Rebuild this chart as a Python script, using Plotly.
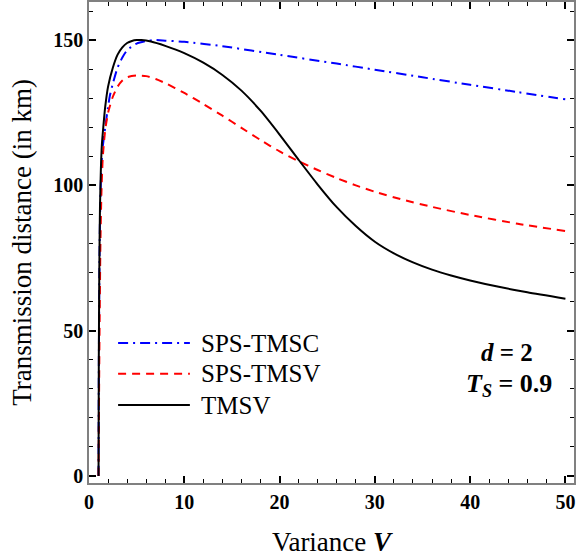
import plotly.graph_objects as go

# ---- data ----
v_tmsc = [1.0, 1.03, 1.08, 1.15, 1.25, 1.4, 1.7, 2.0, 2.2, 2.5, 3.0, 3.5, 4.0, 5.0, 6.0, 7.0, 8.0, 10, 14, 20, 26, 30, 35, 40, 45, 50]
y_tmsc = [0, 35, 65, 88, 102, 112, 120, 127, 131, 135, 140.5, 144, 146.5, 148.8, 149.7, 150, 149.8, 149.4, 147.9, 144.9, 141.9, 139.8, 137.2, 134.6, 132.1, 129.6]

v_tmsv_sps = [1.0, 1.03, 1.07, 1.12, 1.2, 1.3, 1.45, 1.7, 2.0, 2.5, 3.0, 3.5, 4.0, 5.0, 6.0, 7.0, 8.0, 10, 12, 14, 16, 18, 20, 22, 24, 26, 28, 30, 33, 36, 40, 45, 50]
y_tmsv_sps = [0, 15, 35, 55, 80, 97, 110, 119, 125, 130.5, 134, 136.1, 137.2, 137.8, 137.6, 136.6, 135.2, 131.8, 128, 124, 119.8, 115.6, 111.7, 108.3, 105.3, 102.5, 100, 97.8, 95, 92.6, 89.8, 86.8, 84.3]

v_tmsv = [1.0, 1.03, 1.08, 1.15, 1.25, 1.35, 1.5, 1.7, 2.0, 2.5, 3.0, 3.5, 4.0, 4.5, 5.0, 5.5, 6.5, 8, 10, 12, 14, 16, 18, 20, 22, 24, 26, 28, 30, 32, 34, 36, 38, 40, 43, 46, 50]
y_tmsv = [0, 40, 70, 92, 106, 114, 120, 127, 134, 140.5, 145, 147.5, 149, 149.7, 150, 150, 149.5, 148, 145.5, 142.2, 138.0, 132.6, 125.7, 117.5, 108.8, 100.3, 92.5, 86.0, 80.6, 76.6, 73.5, 71.0, 69.0, 67.3, 65.1, 63.2, 61.0]

x_ticks = [0, 10, 20, 30, 40, 50]
y_ticks = [0, 50, 100, 150]

names = ["SPS-TMSC", "SPS-TMSV", "TMSV"]
colors = ["#0000ff", "#ff0000", "#000000"]
dashes = ["10px,5px,2px,5px", "8px,6px", "solid"]

FONT = "Liberation Serif"

fig = go.Figure()
series = [(v_tmsc, y_tmsc), (v_tmsv_sps, y_tmsv_sps), (v_tmsv, y_tmsv)]
for (vx, vy), n, c, d in zip(series, names, colors, dashes):
    fig.add_trace(go.Scatter(x=vx, y=vy, mode="lines", name=n,
                             line=dict(color=c, width=2, dash=d, shape="spline", smoothing=0.6),
                             showlegend=False))

# manual legend
leg_y = [0.291, 0.227, 0.162]
for n, c, d, yy in zip(names, colors, dashes, leg_y):
    fig.add_shape(type="line", xref="paper", yref="paper", x0=0.06, x1=0.208, y0=yy, y1=yy,
                  line=dict(color=c, width=2, dash=d))
    fig.add_annotation(xref="paper", yref="paper", x=0.226, y=yy, text=n, showarrow=False,
                       xanchor="left", yanchor="middle",
                       font=dict(family=FONT, size=25, color="black"))

fig.add_annotation(xref="paper", yref="paper", x=0.862, y=0.272, text="<i>d</i> = 2", showarrow=False,
                   xanchor="center", yanchor="middle", font=dict(family=FONT, size=25, color="black", weight="bold"))
fig.add_annotation(xref="paper", yref="paper", x=0.866, y=0.204, text="<i>T<sub>S</sub></i> = 0.9", showarrow=False,
                   xanchor="center", yanchor="middle", font=dict(family=FONT, size=26, color="black", weight="bold"))

axis_common = dict(showgrid=False, zeroline=False, showline=True, linecolor="#808080", linewidth=1.5,
                   mirror="allticks", ticks="inside", ticklen=7, tickwidth=1.5, tickcolor="black",
                   automargin=False,
                   tickfont=dict(family=FONT, size=20, color="black", weight="bold"))

fig.update_xaxes(range=[0, 50.9], tickvals=x_ticks, ticktext=[str(t) for t in x_ticks],
                 minor=dict(dtick=2, ticks="inside", ticklen=4, tickwidth=1.2, tickcolor="black"),
                 title=dict(text="Variance <i><b>V</b></i>", font=dict(family=FONT, size=27, color="black"), standoff=20),
                 **axis_common)
fig.update_yaxes(range=[-2.4, 163.1], tickvals=y_ticks, ticktext=[str(t) for t in y_ticks],
                 minor=dict(dtick=10, ticks="inside", ticklen=4, tickwidth=1.2, tickcolor="black"),
                 title=dict(text="Transmission distance (in km)", font=dict(family=FONT, size=27, color="black"), standoff=14),
                 **axis_common)

fig.update_layout(width=576, height=559, margin=dict(l=89, r=2, t=2, b=76),
                  plot_bgcolor="white", paper_bgcolor="white")

fig.write_html("out.html", config={"displayModeBar": False},
               post_script="document.body.style.margin='0';document.body.style.overflow='hidden';")
